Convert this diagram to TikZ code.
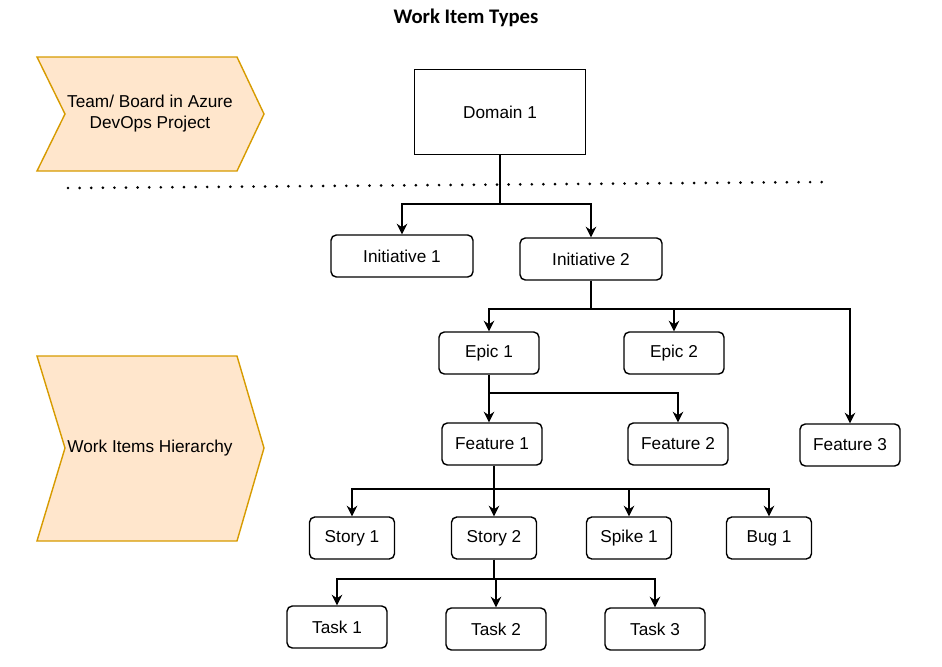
\documentclass[tikz,border=0pt]{standalone}
\usepackage{fontspec}
\setmainfont{Liberation Sans}
\newfontfamily\titlefont{Carlito}
\usetikzlibrary{arrows.meta}
\definecolor{lanefill}{RGB}{255,230,204}
\definecolor{laneborder}{RGB}{215,155,0}

\begin{document}
\begin{tikzpicture}[
    x=0.02cm, y=-0.02cm,
    item/.style={
        rectangle,
        rounded corners=3pt,
        draw=black,
        line width=0.8pt,
        minimum height=0.84cm,
        inner sep=2pt,
        font=\fontsize{9.8}{12}\selectfont
    },
    lane/.style={
        draw=laneborder,
        fill=lanefill,
        line width=0.8pt
    },
    link/.style={
        draw=black,
        line width=0.8pt,
        -{Stealth[length=6pt,width=6pt]}
    }
]
\useasboundingbox (0,0) rectangle (942,666);

% Title
\node[font=\titlefont\bfseries\fontsize{11.8}{14}\selectfont] (title) at (466,18) {Work Item Types};

% Lanes
\draw[lane] (37,57) -- (237,57) -- (264,114) -- (237,171) -- (37,171) -- (65,114) -- cycle;
\node[align=center, font=\fontsize{9.8}{12}\selectfont] (lanetop) at (150,114) {Team/ Board in Azure\\DevOps Project};

\draw[lane] (37,356) -- (237,356) -- (264,448) -- (237,541) -- (37,541) -- (65,448) -- cycle;
\node[font=\fontsize{9.8}{12}\selectfont] (lanebottom) at (150,448) {Work Items Hierarchy};

% Separator
\draw[line width=1.7pt, line cap=round, dash pattern=on 0pt off 6.6pt] (68,188) -- (825,182);

% Domain
\node[item, rounded corners=0pt, minimum width=3.42cm, minimum height=1.7cm] (dom) at (500,112) {Domain 1};

% Initiatives
\node[item, minimum width=2.84cm] (ini1) at (402,256) {Initiative 1};
\node[item, minimum width=2.84cm] (ini2) at (591,259) {Initiative 2};

% Epics
\node[item, minimum width=2cm] (epic1) at (489,353) {Epic 1};
\node[item, minimum width=2cm] (epic2) at (674,353) {Epic 2};

% Features
\node[item, minimum width=2cm] (fea1) at (492,444) {Feature 1};
\node[item, minimum width=2cm] (fea2) at (678,444) {Feature 2};
\node[item, minimum width=2cm] (fea3) at (850,445) {Feature 3};

% Stories
\node[item, minimum width=1.7cm] (sto1) at (352,538) {Story 1};
\node[item, minimum width=1.7cm] (sto2) at (494,538) {Story 2};
\node[item, minimum width=1.7cm] (spike1) at (629,538) {Spike 1};
\node[item, minimum width=1.7cm] (bug1) at (769,538) {Bug 1};

% Tasks
\node[item, minimum width=2cm] (task1) at (337,627) {Task 1};
\node[item, minimum width=2cm] (task2) at (496,629) {Task 2};
\node[item, minimum width=2cm] (task3) at (655,629) {Task 3};

% Branch points
\coordinate (jdom) at (500,204);
\coordinate (jini) at (591,309);
\coordinate (jepic) at (489,393);
\coordinate (jfea) at (494,489);
\coordinate (jsto) at (494,579);

% Connectors
\draw[line width=0.8pt] (dom) -- (jdom);
\draw[link] (jdom) -| (ini1);
\draw[link] (jdom) -| (ini2);

\draw[line width=0.8pt] (ini2) -- (jini);
\draw[link] (jini) -| (epic1);
\draw[link] (jini) -| (epic2);
\draw[link] (jini) -| (fea3);

\draw[link] (epic1) -- (epic1 |- fea1.north);
\draw[link] (jepic) -| (fea2);

\draw[line width=0.8pt] (fea1.south -| jfea) -- (jfea);
\draw[link] (jfea) -| (sto1);
\draw[link] (jfea) -- (sto2);
\draw[link] (jfea) -| (spike1);
\draw[link] (jfea) -| (bug1);

\draw[line width=0.8pt] (sto2) -- (jsto);
\draw[link] (jsto) -| (task1);
\draw[link] (jsto) -| (task2);
\draw[link] (jsto) -| (task3);

\end{tikzpicture}
\end{document}
